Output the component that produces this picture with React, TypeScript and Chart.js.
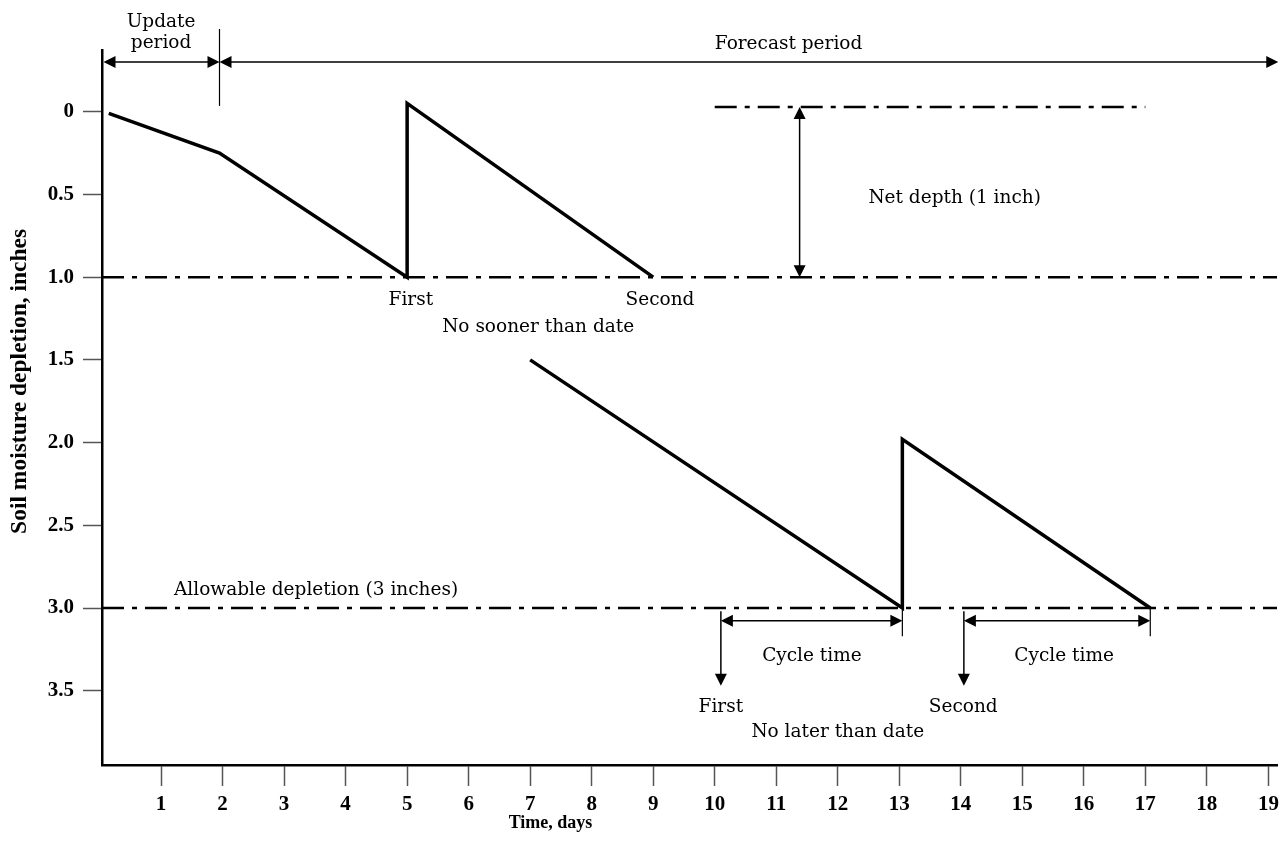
import React, { useEffect, useRef } from "react";
import { Chart, registerables } from "chart.js";

Chart.register(...registerables);

// ---- Data ----
const xTickValues = [1, 2, 3, 4, 5, 6, 7, 8, 9, 10, 11, 12, 13, 14, 15, 16, 17, 18, 19];
const yTickValues = [0, 0.5, 1, 1.5, 2, 2.5, 3, 3.5];
const yTickLabels = ["0", "0.5", "1.0", "1.5", "2.0", "2.5", "3.0", "3.5"];

// upper trace: "no sooner than" irrigation schedule
const upperDays = [0.15, 1.95, 5, 5, 9];
const upperDepletion = [0.01, 0.25, 1.0, -0.05, 1.0];

// lower trace: "no later than" irrigation schedule
const lowerDays = [7, 13.05, 13.05, 17.08];
const lowerDepletion = [1.5, 3.0, 1.98, 3.0];

// reference levels (dash-dot)
const netDepthTopDays = [10, 17];
const netDepthTopLevel = [-0.028, -0.028];
const netDepthDays = [0.04, 19.14];
const netDepthLevel = [1.0, 1.0];
const allowableDays = [0.04, 19.14];
const allowableLevel = [3.0, 3.0];

const X_MIN = 0.04;
const X_MAX = 19.14;
const Y_MIN = -0.373;
const Y_MAX = 3.949;

const ANNO_FONT = "18.5px 'DejaVu Serif'";
const Y_TITLE_FONT = "bold 23.5px 'Liberation Serif'";
const X_TITLE_FONT = "bold 18px 'Liberation Serif'";
const DASH = [22, 8, 5, 8];

const toPts = (xs: number[], ys: number[]) => xs.map((x, i) => ({ x, y: ys[i] }));

const annotatePlugin = {
  id: "annotate",
  afterDraw(chart: any) {
    const { ctx, scales } = chart;
    const xs = scales.x;
    const ys = scales.y;
    const px = (v: number) => xs.getPixelForValue(v);
    const py = (v: number) => ys.getPixelForValue(v);
    ctx.save();
    ctx.strokeStyle = "#000";
    ctx.fillStyle = "#000";
    ctx.lineWidth = 1.5;
    ctx.setLineDash([]);

    const head = (x: number, y: number, dir: string) => {
      const L = 12;
      const W = 6;
      ctx.beginPath();
      ctx.moveTo(x, y);
      if (dir === "left") { ctx.lineTo(x + L, y - W); ctx.lineTo(x + L, y + W); }
      if (dir === "right") { ctx.lineTo(x - L, y - W); ctx.lineTo(x - L, y + W); }
      if (dir === "up") { ctx.lineTo(x - W, y + L); ctx.lineTo(x + W, y + L); }
      if (dir === "down") { ctx.lineTo(x - W, y - L); ctx.lineTo(x + W, y - L); }
      ctx.closePath();
      ctx.fill();
    };
    const line = (x1: number, y1: number, x2: number, y2: number, w = 1.5) => {
      ctx.lineWidth = w;
      ctx.beginPath();
      ctx.moveTo(x1, y1);
      ctx.lineTo(x2, y2);
      ctx.stroke();
    };
    const hArrow = (d1: number, d2: number, lv: number) => {
      const x1 = px(d1), x2 = px(d2), y = py(lv);
      line(x1 + 6, y, x2 - 6, y);
      head(x1, y, "left");
      head(x2, y, "right");
    };

    // update / forecast period arrows
    const axisLeft = chart.chartArea.left + 1.5;
    const yArr = py(-0.3);
    line(axisLeft + 6, yArr, px(1.95) - 6, yArr);
    head(axisLeft, yArr, "left");
    head(px(1.95), yArr, "right");
    line(px(1.95) + 6, yArr, px(19.16) - 6, yArr);
    head(px(1.95), yArr, "left");
    head(px(19.16), yArr, "right");
    // divider
    line(px(1.95), py(-0.5), px(1.95), py(-0.035), 1.2);

    // net depth arrow
    const xn = px(11.38);
    line(xn, py(-0.028) + 6, xn, py(1.0) - 6);
    head(xn, py(-0.028), "up");
    head(xn, py(1.0), "down");

    // cycle time arrows
    hArrow(10.1, 13.05, 3.077);
    hArrow(14.05, 17.08, 3.077);
    line(px(13.05), py(3.0), px(13.05), py(3.17), 1.2);
    line(px(17.08), py(3.0), px(17.08), py(3.17), 1.2);

    // down arrows
    line(px(10.1), py(3.02), px(10.1), py(3.47) - 6);
    head(px(10.1), py(3.47), "down");
    line(px(14.05), py(3.02), px(14.05), py(3.47) - 6);
    head(px(14.05), py(3.47), "down");

    // texts
    ctx.font = ANNO_FONT;
    ctx.textAlign = "center";
    ctx.textBaseline = "middle";
    const txt = (s: string, d: number, lv: number) => ctx.fillText(s, px(d), py(lv));
    txt("Update", 1.0, -0.54);
    txt("period", 1.0, -0.415);
    txt("Forecast period", 11.2, -0.41);
    txt("First", 5.06, 1.14);
    txt("Second", 9.11, 1.14);
    txt("No sooner than date", 7.13, 1.3);
    txt("Net depth (1 inch)", 13.9, 0.52);
    txt("Allowable depletion (3 inches)", 3.52, 2.89);
    txt("Cycle time", 11.58, 3.29);
    txt("Cycle time", 15.68, 3.29);
    txt("First", 10.1, 3.6);
    txt("Second", 14.04, 3.6);
    txt("No later than date", 12.0, 3.75);

    // axis titles
    ctx.font = X_TITLE_FONT;
    ctx.fillText("Time, days", px(7.33), chart.chartArea.bottom + 58);
    ctx.font = Y_TITLE_FONT;
    ctx.save();
    ctx.translate(20, py(1.63));
    ctx.rotate(-Math.PI / 2);
    ctx.fillText("Soil moisture depletion, inches", 0, 0);
    ctx.restore();

    ctx.restore();
  },
};

export default function App() {
  const ref = useRef<HTMLCanvasElement | null>(null);
  useEffect(() => {
    if (!ref.current) return;
    const solid = { showLine: true, borderColor: "#000", borderWidth: 3.5, pointRadius: 0, borderJoinStyle: "miter", borderCapStyle: "butt", fill: false };
    const dashed = { showLine: true, borderColor: "#000", borderWidth: 2.5, pointRadius: 0, borderDash: DASH, fill: false };
    const tickFont = { family: "'Liberation Serif'", weight: "bold", size: 21 };
    const chart = new Chart(ref.current, {
      type: "scatter",
      data: {
        datasets: [
          { ...solid, label: "No sooner than", data: toPts(upperDays, upperDepletion) },
          { ...solid, label: "No later than", data: toPts(lowerDays, lowerDepletion) },
          { ...dashed, label: "Full", data: toPts(netDepthTopDays, netDepthTopLevel) },
          { ...dashed, label: "Net depth", data: toPts(netDepthDays, netDepthLevel) },
          { ...dashed, label: "Allowable", data: toPts(allowableDays, allowableLevel) },
        ] as any,
      },
      options: {
        animation: false,
        responsive: false,
        layout: { padding: { top: 50, right: 8, left: 0, bottom: 0 } },
        plugins: { legend: { display: false }, tooltip: { enabled: false } },
        scales: {
          x: {
            type: "linear",
            min: X_MIN,
            max: X_MAX,
            afterBuildTicks: (s: any) => { s.ticks = xTickValues.map((v) => ({ value: v })); },
            afterFit: (s: any) => { s.height = 85; },
            grid: { drawOnChartArea: false, drawTicks: true, tickLength: 21, tickColor: "#555", tickWidth: 1.5 },
            border: { display: true, color: "#000", width: 2.5 },
            ticks: { font: tickFont as any, color: "#000", padding: 6, autoSkip: false, maxRotation: 0, callback: (v: any) => String(v) },
          },
          y: {
            type: "linear",
            reverse: true,
            min: Y_MIN,
            max: Y_MAX,
            afterBuildTicks: (s: any) => { s.ticks = yTickValues.map((v) => ({ value: v })); },
            afterFit: (s: any) => { s.width = 102; },
            grid: { drawOnChartArea: false, drawTicks: true, tickLength: 19, tickColor: "#555", tickWidth: 1.5 },
            border: { display: true, color: "#000", width: 2.5 },
            ticks: { font: tickFont as any, color: "#000", padding: 9, autoSkip: false, callback: (_v: any, i: number) => yTickLabels[i] },
          },
        },
      } as any,
      plugins: [annotatePlugin],
    });
    return () => chart.destroy();
  }, []);
  return (
    <div style={{ position: "fixed", left: 0, top: 0, width: 1285, height: 850, background: "#fff" }}>
      <canvas ref={ref} width={1285} height={850} />
    </div>
  );
}
